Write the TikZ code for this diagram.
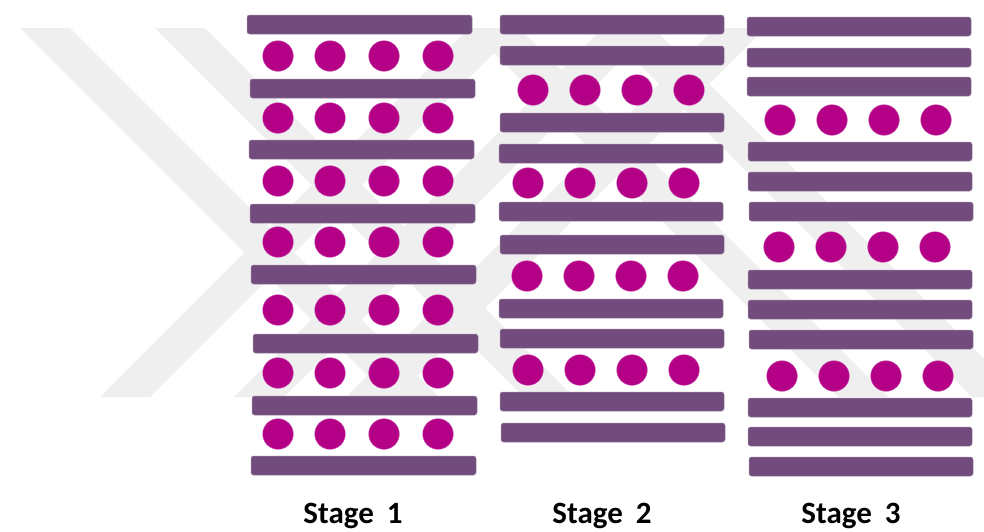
\documentclass[tikz,border=0pt]{standalone}
\usepackage{fontspec}
\setmainfont{Carlito}
\definecolor{layer}{HTML}{714C7C}
\definecolor{ion}{HTML}{B40087}
\definecolor{mark}{HTML}{EFEFEF}
\tikzset{
  layerbar/.style={fill=layer, draw=layer!70!white, line width=0.5pt, rounded corners=2.5pt},
  ionball/.style={fill=ion, draw=ion!70!white, line width=0.4pt},
  faint/.style={fill=mark},
  stagelabel/.style={font=\fontsize{31}{37}\selectfont\bfseries, text=black, inner sep=0pt, anchor=base}
}
\begin{document}
\begin{tikzpicture}[x=1pt,y=-1pt]
\useasboundingbox (0,0) rectangle (984,531);
\fill[white] (0,0) rectangle (984,531);

% faint diagonal stripes in the background, cut at y=28 and y=397
\foreach \t in {20,155,469,603}
  \fill[faint] (\t,28) -- (\t+50,28) -- (\t+419,397) -- (\t+369,397) -- cycle;
\foreach \t in {469,603,715}
  \fill[faint] (\t,28) -- (\t+50,28) -- (\t-319,397) -- (\t-369,397) -- cycle;

% Stage 1: single layers with one row of ions between each pair
\foreach \x/\y in {247/15,250/79,249/140,250/204,251/265,253/334,252/396,251/456}
  \filldraw[layerbar] (\x,\y) rectangle ++(225,19);
\foreach \y in {56,118,181,242,310,373,434}
  \foreach \x in {278,330,384,438}
    \filldraw[ionball] (\x,\y) circle (15.3pt);

% Stage 2: ion rows between pairs of layers
\foreach \x/\y in {500/15,500/46,500/113,499/144,499/202,500/235,499/299,500/329,500/392,501/423}
  \filldraw[layerbar] (\x,\y) rectangle ++(224,19);
\foreach \y/\a in {90/533,183/528,276/527,370/528}
  \foreach \d in {0,52,104,156}
    \filldraw[ionball] (\a+\d,\y) circle (15.3pt);

% Stage 3: ion rows between stacks of three layers
\foreach \x/\y in {747/17,747/48,747/77,748/142,748/172,749/202,748/270,748/300,749/330,748/398,748/427,749/457}
  \filldraw[layerbar] (\x,\y) rectangle ++(224,19);
\foreach \y/\a in {120/780,247/779,376/782}
  \foreach \d in {0,52,104,156}
    \filldraw[ionball] (\a+\d,\y) circle (15.3pt);

% stage captions
\node[stagelabel] (s1) at (353,523) {Stage\hspace{13pt}1};
\node[stagelabel] (s2) at (602,523) {Stage\hspace{13pt}2};
\node[stagelabel] (s3) at (851,523) {Stage\hspace{13pt}3};
\end{tikzpicture}
\end{document}
